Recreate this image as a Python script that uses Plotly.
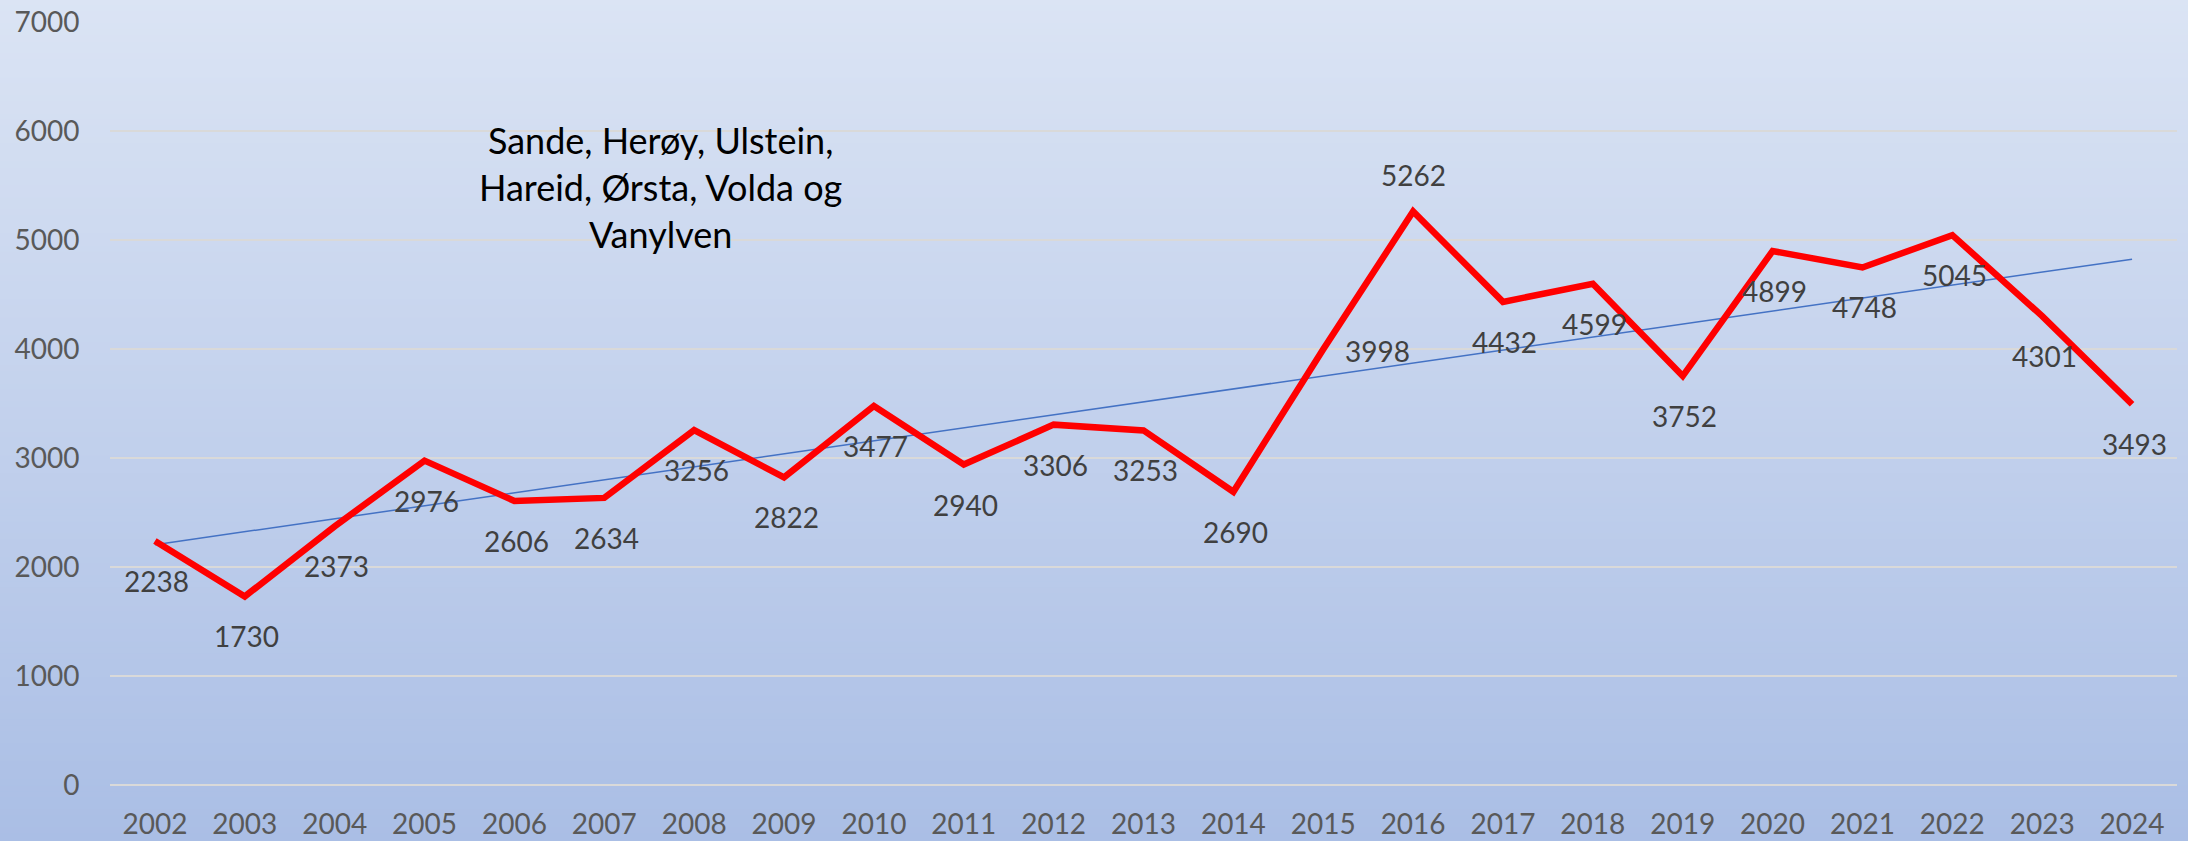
import numpy as np
import plotly.graph_objects as go

years = [str(y) for y in range(2002, 2025)]
values = [2238, 1730, 2373, 2976, 2606, 2634, 3256, 2822, 3477, 2940, 3306, 3253,
          2690, 3998, 5262, 4432, 4599, 3752, 4899, 4748, 5045, 4301, 3493]
# label placement per point: "below", "above", "right"
label_pos = ["below"] * 13 + ["right", "above"] + ["below"] * 8
y_ticks = [0, 1000, 2000, 3000, 4000, 5000, 6000, 7000]
note_text = "Sande, Herøy, Ulstein,<br>Hareid, Ørsta, Volda og<br>Vanylven"

W, H = 2188, 841
ML, MR, MT, MB = 110, 11, 22, 56

idx = np.arange(len(values))
slope, intercept = np.polyfit(idx, values, 1)
trend = slope * idx + intercept

fig = go.Figure()
fig.add_trace(go.Scatter(x=years, y=trend, mode="lines",
                         line=dict(color="#4472c4", width=1.5), hoverinfo="skip"))
fig.add_trace(go.Scatter(x=years, y=values, mode="lines",
                         line=dict(color="#ff0000", width=6.5)))

for i, (v, p) in enumerate(zip(values, label_pos)):
    if p == "below":
        xs, ys = 2, -40
    elif p == "above":
        xs, ys = 0, 36
    else:
        xs, ys = 54, -2
    fig.add_annotation(x=i, y=v, text=str(v), showarrow=False,
                       xshift=xs, yshift=ys, xanchor="center", yanchor="middle",
                       font=dict(family="Lato", size=28, color="#404040"))

fig.add_annotation(xref="paper", yref="paper",
                   x=(660 - ML) / (W - ML - MR), y=(H - MB - 187) / (H - MT - MB),
                   text=note_text, showarrow=False, xanchor="center", yanchor="middle",
                   align="center", font=dict(family="Lato", size=36, color="#000000"))

# vertical gradient background
top = np.array([219, 228, 244])
bot = np.array([170, 190, 229])
band = 6
plot_h = H - MT - MB
for p0 in range(-band, H + band, band):
    p1 = p0 + band
    t = min(max((p0 + band / 2) / H, 0), 1)
    c = top + (bot - top) * t
    fig.add_shape(type="rect", xref="paper", yref="paper", layer="below",
                  x0=-0.1, x1=1.1,
                  y0=(H - MB - p1) / plot_h, y1=(H - MB - p0) / plot_h + 0.001,
                  line=dict(width=0),
                  fillcolor="rgb(%d,%d,%d)" % tuple(int(round(a)) for a in c))

fig.update_layout(
    width=W, height=H,
    margin=dict(l=ML, r=MR, t=MT, b=MB, autoexpand=False),
    paper_bgcolor="rgb(195,209,236)",
    plot_bgcolor="rgba(0,0,0,0)",
    showlegend=False,
    font=dict(family="Lato", size=28, color="#595959"),
)
fig.update_xaxes(type="category", range=[-0.5, len(years) - 0.5], automargin=False,
                 showgrid=False, showline=False, zeroline=False,
                 ticks="outside", ticklen=14, tickcolor="rgba(0,0,0,0)",
                 tickfont=dict(family="Lato", size=28, color="#595959"))
fig.update_yaxes(range=[0, 7000], tickvals=y_ticks, automargin=False,
                 showgrid=True, gridcolor="#d9d9d9", gridwidth=2,
                 zeroline=True, zerolinecolor="#d9d9d9", zerolinewidth=2,
                 showline=False,
                 ticks="outside", ticklen=24, tickcolor="rgba(0,0,0,0)",
                 tickfont=dict(family="Lato", size=28, color="#595959"))

fig.write_html("out.html", config={"displayModeBar": False},
               post_script="document.body.style.margin='0';document.body.style.overflow='hidden';")
